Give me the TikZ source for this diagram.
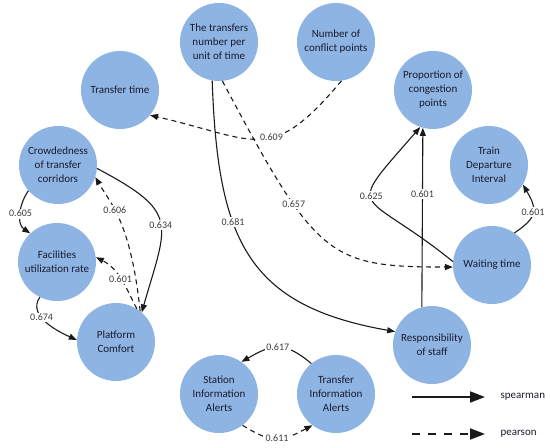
\documentclass[tikz,border=0pt]{standalone}
\usepackage{fontspec}
\setmainfont{Carlito}
\usetikzlibrary{arrows.meta}
\definecolor{factorFill}{HTML}{8DB4E2}
\definecolor{factorText}{HTML}{1B1B2F}
\definecolor{linkCol}{HTML}{1A1A1A}
\definecolor{lblText}{HTML}{3C3C3C}

\begin{document}
\begin{tikzpicture}[x=1pt, y=1pt,
  font=\fontsize{11}{14}\selectfont,
  factor/.style={circle, fill=factorFill, text=factorText, minimum size=78pt,
                 inner sep=0pt, align=center},
  link/.style={-{Triangle[length=8pt,width=6pt]}, line width=1.1pt, draw=linkCol},
  spear/.style={link},
  pears/.style={link, dash pattern=on 5pt off 4pt},
  lbl/.style={font=\fontsize{10}{12}\selectfont, text=lblText, fill=white, inner sep=1.5pt},
  legarrow/.style={-{Triangle[length=15pt,width=11pt]}, line width=2pt, draw=linkCol},
]
\useasboundingbox (0,0) rectangle (550,448);

% ---- Factores (anillo) ----
\node[factor] (trnum)    at (219,406) {The transfers\\number per\\unit of time};
\node[factor] (conflict) at (336,406) {Number of\\conflict points};
\node[factor] (trtime)   at (120,358) {Transfer time};
\node[factor] (congest)  at (433,358) {Proportion of\\congestion\\points};
\node[factor] (crowd)    at (58,283)  {Crowdedness\\of transfer\\corridors};
\node[factor] (train)    at (489,283) {Train\\Departure\\Interval};
\node[factor] (facil)    at (57,186)  {Facilities\\utilization rate};
\node[factor] (waiting)  at (492,183) {Waiting time};
\node[factor] (platform) at (116,106) {Platform\\Comfort};
\node[factor] (staff)    at (432,103) {Responsibility\\of staff};
\node[factor] (sinfo)    at (219,54)  {Station\\Information\\Alerts};
\node[factor] (tinfo)    at (336,54)  {Transfer\\Information\\Alerts};

% ---- Relaciones (parte superior) ----
\draw[pears] (conflict.-82) to[out=-130, in=-13, looseness=1.45]
      node[lbl, pos=0.42] (l609) {0.609} (trtime.-40);
\draw[pears] (trnum.-85) to[out=-62, in=180, out distance=200pt, in distance=125pt]
      node[lbl, pos=0.32] (l657) {0.657} (waiting.183);
\draw[spear] (trnum.-100) to[out=-88, in=170, out distance=160pt, in distance=150pt]
      node[lbl, pos=0.37] (l681) {0.681} (staff.160);

% ---- Relaciones (lado derecho) ----
\draw[spear] (waiting.175) to[out=141, in=-131, looseness=2.2]
      node[lbl, pos=0.55] (l625) {0.625} (congest.-109);
\draw[spear] (staff.105) -- node[lbl, pos=0.63] (l601b) {0.601} (congest.-105);
\draw[spear] (waiting.55) to[out=34, in=-60, looseness=1.5]
      node[lbl, pos=0.5] (l601c) {0.601} (train.-30);

% ---- Relaciones (lado izquierdo) ----
\draw[spear] (crowd.-139) to[out=-125, in=146]
      node[lbl, pos=0.5] (l605) {0.605} (facil.133);
\draw[spear] (crowd.-5) to[out=-28, in=74, looseness=1.6]
      node[lbl, pos=0.52] (l634) {0.634} (platform.49);
\draw[pears] (platform.52) to[out=96, in=-60, out distance=90pt, in distance=30pt]
      node[lbl, pos=0.6] (l606) {0.606} (crowd.-18);
\draw[pears] (platform.58) to[out=117, in=-27]
      node[lbl, pos=0.5] (l601a) {0.601} (facil.7);
\draw[spear] (facil.-116) to[out=-125, in=156]
      node[lbl, pos=0.4] (l674) {0.674} (platform.177);

% ---- Relaciones (parte inferior) ----
\draw[spear] (tinfo.129) to[out=140, in=30, looseness=1.3]
      node[lbl, pos=0.5] (l617) {0.617} (sinfo.55);
\draw[pears] (sinfo.-53) to[out=-32, in=-152, looseness=1.3]
      node[lbl, pos=0.5] (l611) {0.611} (tinfo.-127);

% ---- Leyenda ----
\coordinate (spearA) at (412,51);
\coordinate (spearB) at (485,51);
\coordinate (pearsA) at (412,14);
\coordinate (pearsB) at (485,14);
\draw[legarrow] (spearA) -- (spearB);
\draw[legarrow, dash pattern=on 8pt off 8pt] (pearsA) -- (pearsB);
\node[anchor=west, text=factorText] (spearlbl) at (497,51) {spearman};
\node[anchor=west, text=factorText] (pearslbl) at (497,14) {pearson};

\end{tikzpicture}
\end{document}
